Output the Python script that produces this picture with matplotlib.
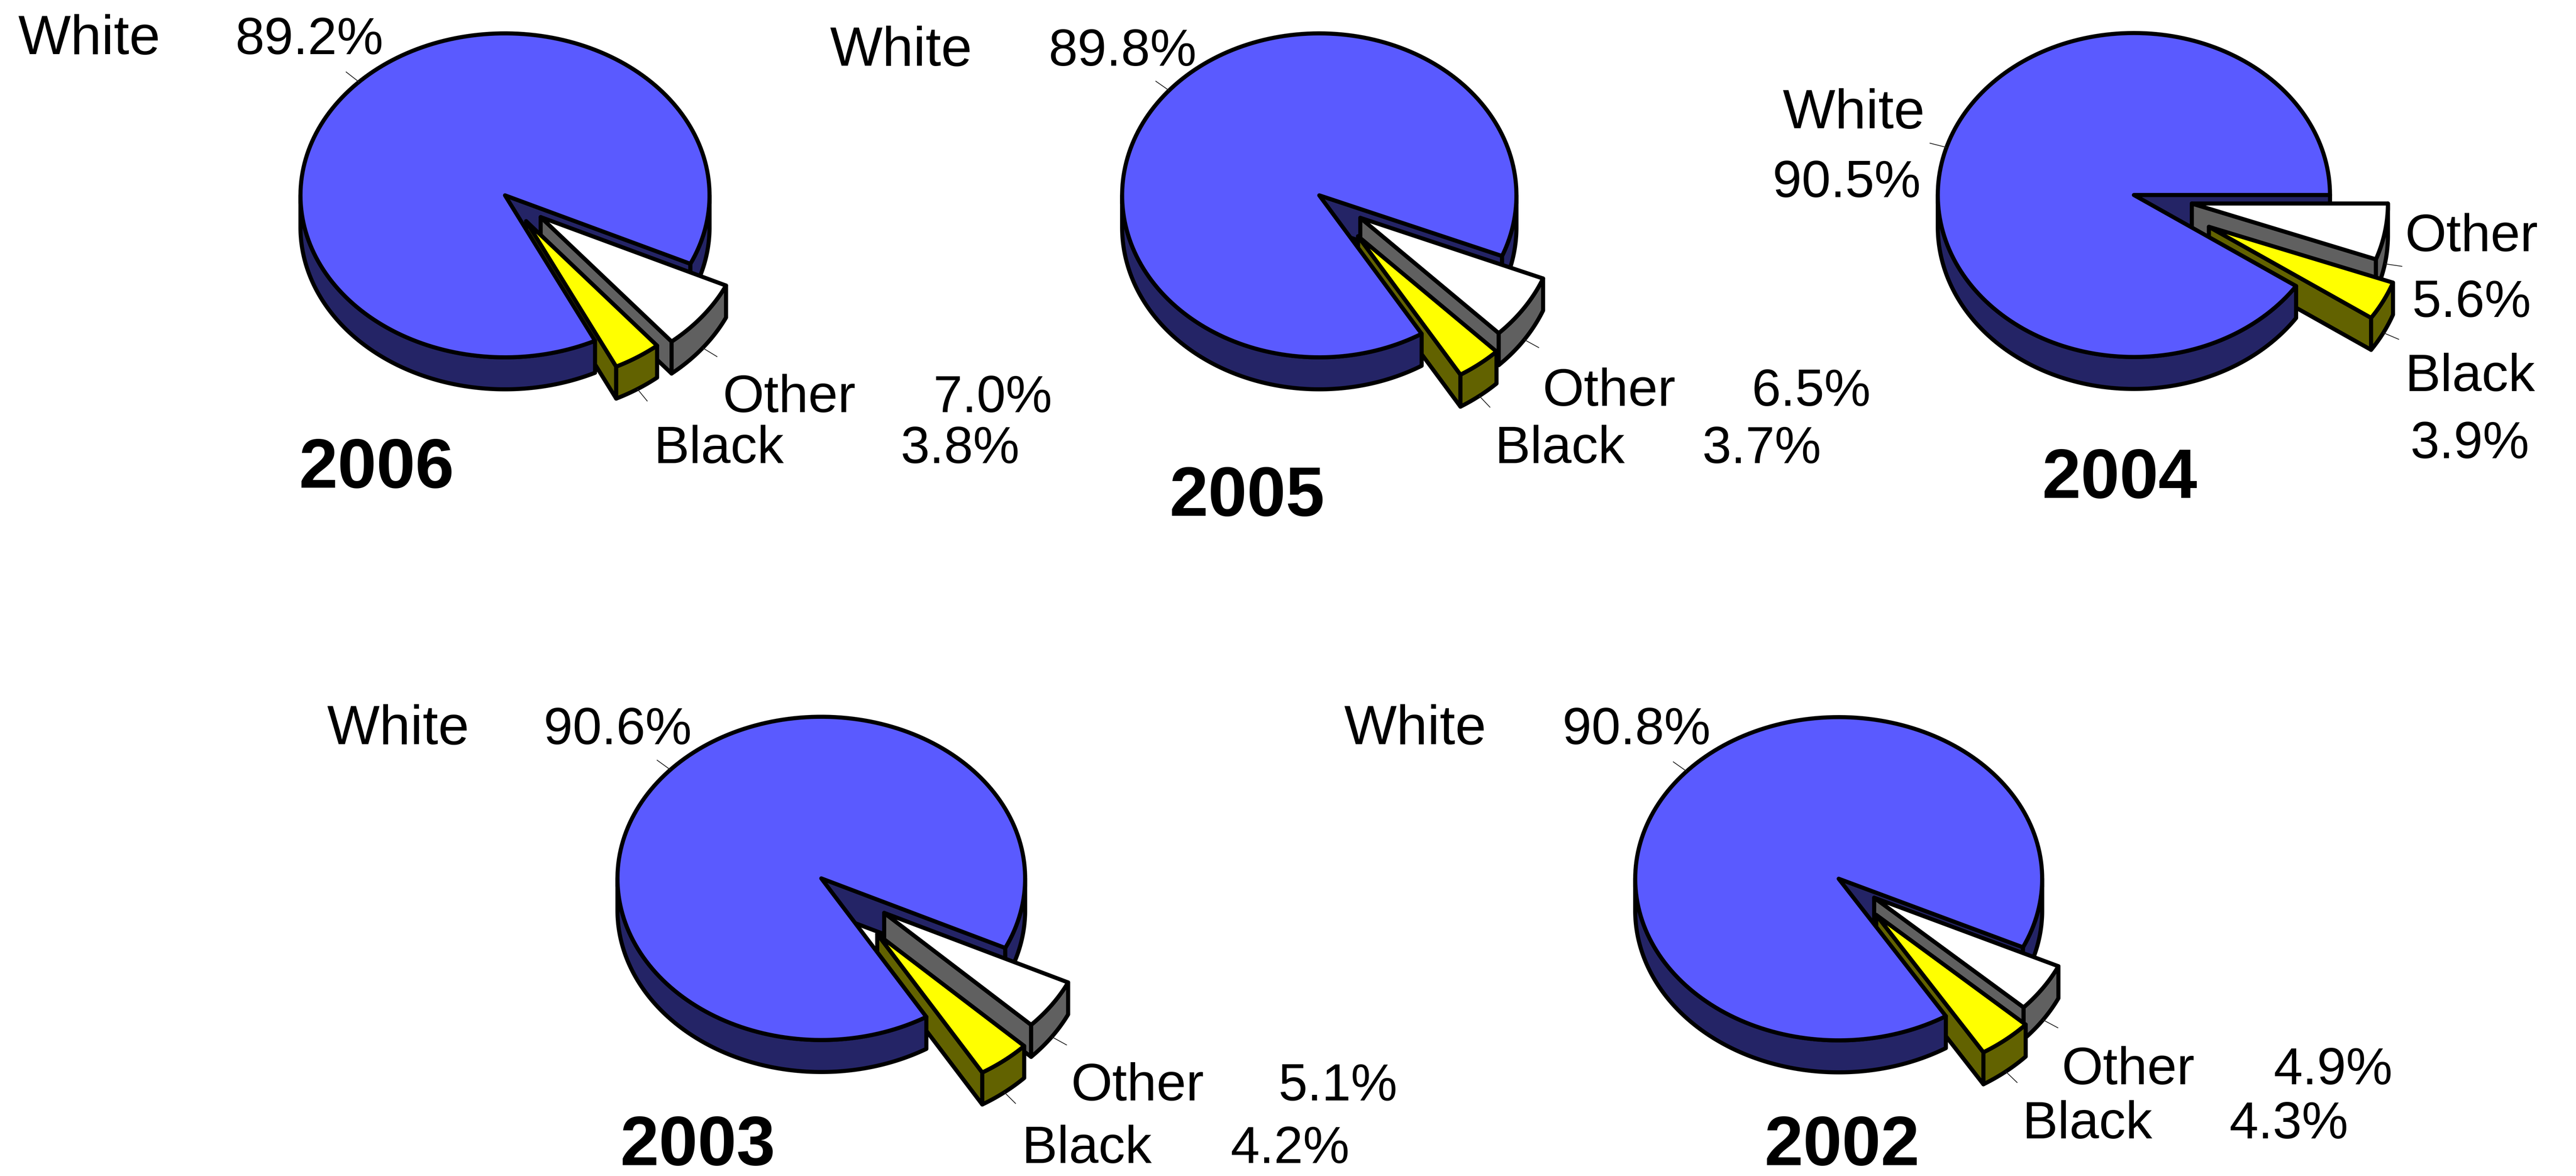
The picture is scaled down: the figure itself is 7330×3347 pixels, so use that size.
"""
Five exploded 3D pies, one per year, drawn as plain polygons in image pixels.
"""

import matplotlib.pyplot as plt
import numpy as np
from matplotlib.patches import Polygon

YEARS = ["2006", "2005", "2004", "2003", "2002"]
WHITE = [89.2, 89.8, 90.5, 90.6, 90.8]
OTHER = [7.0, 6.5, 5.6, 5.1, 4.9]
BLACK = [3.8, 3.7, 3.9, 4.2, 4.3]

# pie layout
CENTER_X = [1437, 3754, 6072, 2337, 5232]
CENTER_Y = [556, 556, 555, 2500, 2501]
RADIUS_X = [582, 561, 558, 580, 579]
RADIUS_Y = [461, 461, 461, 460, 460]
DEPTH = 91
GAP_START = [25, 22, 0, 25.5, 25.1]  # degrees clockwise from 3 o'clock
EXPLODE_OTHER = [0.22, 0.25, 0.30, 0.375, 0.21]
EXPLODE_BLACK = [0.19, 0.32, 0.43, 0.44, 0.29]

# label layout (left edge, baseline)
WHITE_X = [51, 2361, 5072, 930, 3824]
WHITE_Y = [154, 187, 365, 2118, 2118]
WHITE_PCT_X = [669, 2983, 5044, 1547, 4446]
WHITE_PCT_Y = [154, 187, 561, 2118, 2118]
OTHER_X = [2057, 4390, 6844, 3048, 5867]
OTHER_Y = [1173, 1155, 715, 3132, 3086]
OTHER_PCT_X = [2655, 4984, 6863, 3637, 6470]
OTHER_PCT_Y = [1173, 1155, 902, 3132, 3086]
BLACK_X = [1861, 4254, 6844, 2908, 5755]
BLACK_Y = [1318, 1318, 1113, 3310, 3240]
BLACK_PCT_X = [2562, 4843, 6858, 3502, 6344]
BLACK_PCT_Y = [1318, 1318, 1304, 3310, 3240]
YEAR_X = [1071, 3548, 6031, 1985, 5241]
YEAR_Y = [1388, 1468, 1417, 3316, 3316]

BLUE = "#5a5aff"
NAVY = "#242466"
GRAY = "#606060"
OLIVE = "#626200"
YELLOW = "#ffff00"
EDGE_WIDTH = 8.4
FONT = "Liberation Sans"


def rim(cx, cy, rx, ry, a0, a1, drop=0.0):
    """
    Points on the ellipse between two angles, a0 to a1.
    """

    t = np.radians(np.linspace(a0, a1, 200))

    return np.column_stack(
        (
            cx + rx * np.cos(t),
            cy + drop + ry * np.sin(t),
        )
    )


def add_poly(ax, points, color):
    ax.add_patch(
        Polygon(
            points,
            closed=True,
            facecolor=color,
            edgecolor="black",
            linewidth=EDGE_WIDTH,
            joinstyle="round",
        )
    )


def add_side(ax, cx, cy, rx, ry, a0, a1, color):
    """
    Outer wall below the rim.
    """

    top = rim(cx, cy, rx, ry, a0, a1)
    bottom = rim(cx, cy, rx, ry, a0, a1, DEPTH)
    add_poly(ax, np.vstack((top, bottom[::-1])), color)


def add_cut(ax, cx, cy, rx, ry, angle, color):
    """
    Flat radial wall from the apex to the rim.
    """

    edge = rim(cx, cy, rx, ry, angle, angle)[0]
    add_poly(
        ax,
        [
            (cx, cy),
            edge,
            (edge[0], edge[1] + DEPTH),
            (cx, cy + DEPTH),
        ],
        color,
    )


def add_slice(ax, cx, cy, rx, ry, a0, a1, explode, top_color, side_color):
    """
    Draw one pulled out slice and return its shifted centre.
    """

    mid = np.radians((a0 + a1) / 2)
    sx = cx + explode * rx * np.cos(mid)
    sy = cy + explode * ry * np.sin(mid)

    add_cut(ax, sx, sy, rx, ry, a1, side_color)
    add_side(ax, sx, sy, rx, ry, a0, a1, side_color)
    add_poly(
        ax,
        np.vstack(([(sx, sy)], rim(sx, sy, rx, ry, a0, a1))),
        top_color,
    )

    return sx, sy


def add_leader(ax, cx, cy, rx, ry, angle, drop):
    t = np.radians(angle)
    x0 = cx + rx * np.cos(t)
    y0 = cy + ry * np.sin(t) + drop

    ax.plot(
        [x0, x0 + 0.09 * rx * np.cos(t)],
        [y0, y0 + 0.09 * ry * np.sin(t)],
        color="#202020",
        linewidth=1.6,
        solid_capstyle="butt",
    )


fig = plt.figure(figsize=(73.3, 33.47), dpi=100)
ax = fig.add_axes([0, 0, 1, 1])
ax.set_xlim(0, 7330)
ax.set_ylim(3347, 0)
ax.axis("off")

for i, year in enumerate(YEARS):

    cx, cy = CENTER_X[i], CENTER_Y[i]
    rx, ry = RADIUS_X[i], RADIUS_Y[i]

    # slice angles come from the shares
    a_other = GAP_START[i]
    a_black = a_other + OTHER[i] * 3.6
    a_end = a_black + BLACK[i] * 3.6
    a_white_end = a_other + 360
    a_mid = (a_end + a_white_end) / 2

    # walls of the main pie behind the pulled out slices
    add_cut(ax, cx, cy, rx, ry, a_other, NAVY)
    if a_other > 0:
        add_side(ax, cx, cy, rx, ry, 0, a_other, NAVY)

    sx, sy = add_slice(
        ax, cx, cy, rx, ry, a_other, a_black, EXPLODE_OTHER[i], "white", GRAY
    )
    add_leader(ax, sx, sy, rx, ry, (a_other + a_black) / 2, DEPTH)

    sx, sy = add_slice(
        ax, cx, cy, rx, ry, a_black, a_end, EXPLODE_BLACK[i], YELLOW, OLIVE
    )
    add_leader(ax, sx, sy, rx, ry, (a_black + a_end) / 2, DEPTH)

    # front wall and top of the main pie go over them
    add_side(ax, cx, cy, rx, ry, a_end, 180, NAVY)
    add_poly(
        ax,
        np.vstack(([(cx, cy)], rim(cx, cy, rx, ry, a_end, a_white_end))),
        BLUE,
    )
    add_leader(ax, cx, cy, rx, ry, a_mid, 0)

    labels = [
        (WHITE_X[i], WHITE_Y[i], "White", 114),
        (WHITE_PCT_X[i], WHITE_PCT_Y[i], f"{WHITE[i]:.1f}%", 107),
        (OTHER_X[i], OTHER_Y[i], "Other", 109),
        (OTHER_PCT_X[i], OTHER_PCT_Y[i], f"{OTHER[i]:.1f}%", 107),
        (BLACK_X[i], BLACK_Y[i], "Black", 109),
        (BLACK_PCT_X[i], BLACK_PCT_Y[i], f"{BLACK[i]:.1f}%", 107),
    ]
    for x, y, label, size in labels:
        ax.text(x, y, label, family=FONT, fontsize=size, ha="left", va="baseline")

    ax.text(
        YEAR_X[i],
        YEAR_Y[i],
        year,
        family=FONT,
        fontsize=143,
        fontweight="bold",
        ha="center",
        va="baseline",
    )

fig.savefig("out.png", dpi=100, facecolor="white")
